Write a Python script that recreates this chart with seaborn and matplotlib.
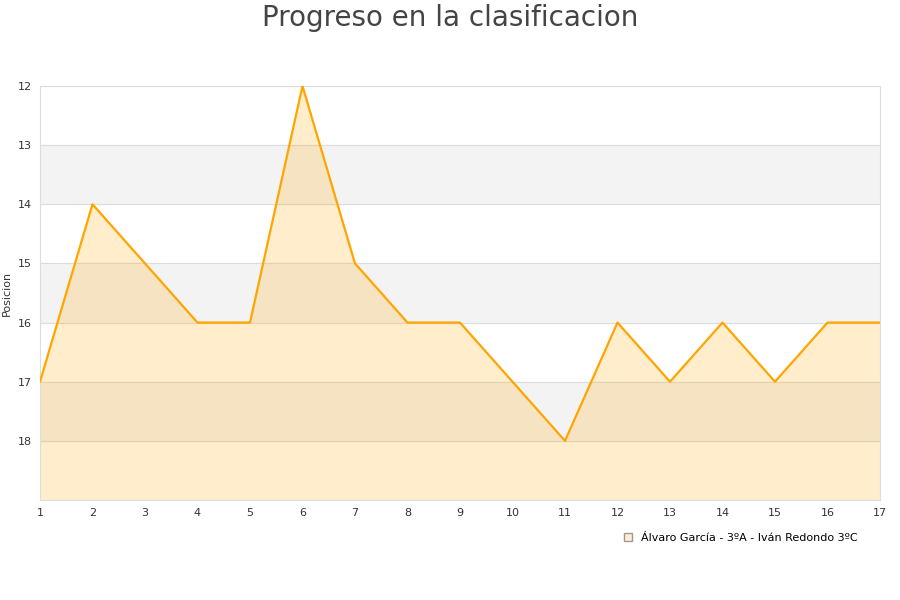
import matplotlib
matplotlib.use("Agg")
import matplotlib.pyplot as plt
import seaborn as sns
import pandas as pd
from matplotlib.patches import Patch

jornadas = list(range(1, 18))
posiciones = [17, 14, 15, 16, 16, 12, 15, 16, 16, 17, 18, 16, 17, 16, 17, 16, 16]
serie = "Álvaro García - 3ºA - Iván Redondo 3ºC"

df = pd.DataFrame({"Jornada": jornadas, "Posicion": posiciones})

sns.set_style("white")
plt.rcParams['font.family'] = ['DejaVu Sans']

fig = plt.figure(figsize=(9, 6), dpi=100)
ax = fig.add_axes([40 / 900, 100 / 600, 840 / 900, 414 / 600])

# bandas alternas
for lo in [13, 15, 17]:
    ax.axhspan(lo, lo + 1, color="#f3f3f3", zorder=0)
for y in range(12, 19):
    ax.axhline(y, color="#dddddd", lw=0.8, zorder=1)

ax.fill_between(df["Jornada"], df["Posicion"], 19, color="#ffa500", alpha=0.2, lw=0, zorder=2)
sns.lineplot(data=df, x="Jornada", y="Posicion", ax=ax, color="#ffa500", lw=1.6, zorder=3)

ax.set_xlim(1, 17)
ax.set_ylim(19, 12)
ax.set_xticks(jornadas)
ax.set_yticks(range(12, 19))
ax.tick_params(labelsize=8, colors="#333333", length=0, pad=6)
ax.set_xlabel("")
ax.set_ylabel("Posicion", fontsize=8, color="#333333", labelpad=4)
for s in ax.spines.values():
    s.set_color("#dddddd")

fig.suptitle("Progreso en la clasificacion", fontsize=20, color="#444444", y=0.993)

leg = ax.legend(handles=[Patch(facecolor="#ffedcc", edgecolor="#999999", label=serie)],
                loc="upper right", bbox_to_anchor=(0.985, -0.055), frameon=False,
                fontsize=8, handlelength=0.7, handleheight=0.7)
for t in leg.get_texts():
    t.set_color("black")

fig.savefig("out.png", dpi=100)
